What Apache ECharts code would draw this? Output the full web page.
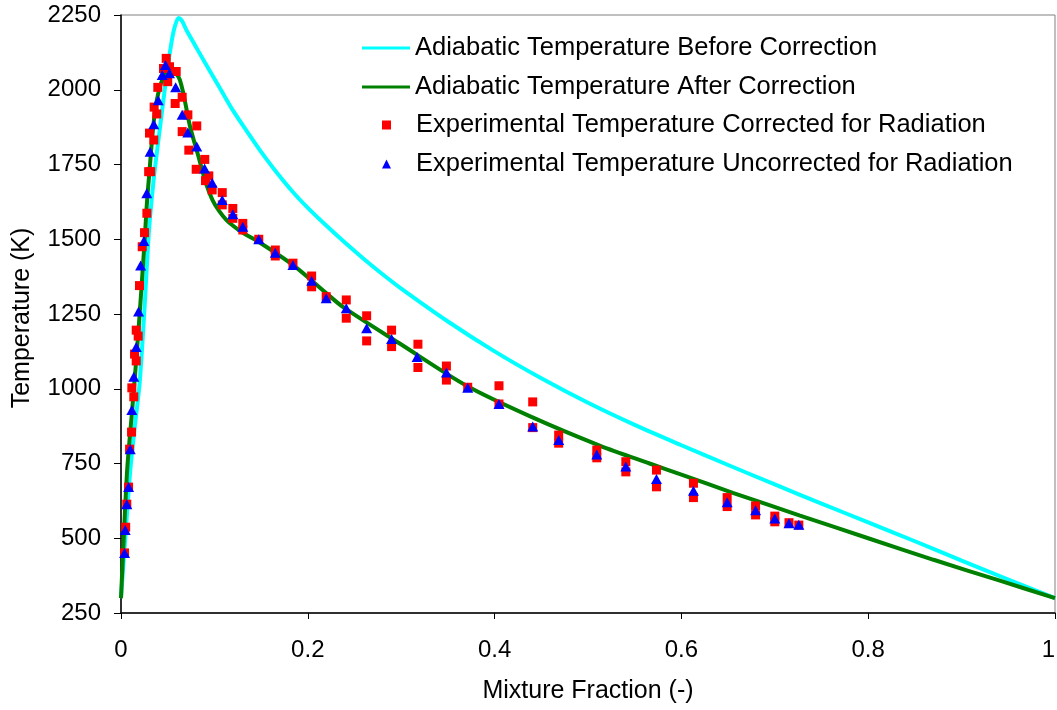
<!DOCTYPE html>
<html>
<head>
<meta charset="utf-8">
<script src="https://cdn.jsdelivr.net/npm/echarts@6/dist/echarts.min.js"></script>
<style>html,body{margin:0;padding:0;background:#fff}#c{width:1057px;height:710px}</style>
</head>
<body>
<div id="c"></div>
<script>
// Adiabatic temperature before correction (cyan)
const beforeX = [0, 0.005, 0.01, 0.015, 0.02, 0.025, 0.03, 0.035, 0.04, 0.045, 0.05, 0.055, 0.058, 0.0616, 0.065, 0.07, 0.08, 0.09, 0.1, 0.11, 0.12, 0.135, 0.15, 0.165, 0.184, 0.2, 0.22, 0.24, 0.26, 0.28, 0.3, 0.35, 0.4, 0.45, 0.5, 0.55, 0.6, 0.65, 0.7, 0.75, 0.8, 0.85, 0.9, 0.95, 1.0];
const beforeT = [300, 520, 730, 880, 1020, 1260, 1530, 1700, 1830, 1955, 2075, 2175, 2215, 2240, 2232, 2200, 2145, 2090, 2037, 1983, 1930, 1860, 1792, 1730, 1658, 1605, 1545, 1488, 1434, 1383, 1335, 1225, 1125, 1035, 953, 879, 811, 745, 680, 616, 553, 490, 425, 362, 300];
// Adiabatic temperature after correction (green)
const afterX = [0, 0.0032, 0.0068, 0.012, 0.0185, 0.025, 0.0275, 0.030, 0.0366, 0.045, 0.054, 0.063, 0.074, 0.083, 0.091, 0.098, 0.105, 0.113, 0.12, 0.13, 0.148, 0.184, 0.22, 0.2375, 0.298, 0.37, 0.44, 0.5125, 0.566, 0.6, 0.655, 0.727, 0.8, 0.87, 0.941, 1.0];
const afterT = [300, 518, 738, 930, 1186, 1480, 1610, 1709, 1932, 2040, 2065, 2033, 1876, 1776, 1687, 1631, 1595, 1564, 1545, 1522, 1490, 1414, 1319, 1274, 1152, 1010, 905, 810, 750, 713, 652, 576, 500, 428, 358, 300];
// Experimental temperature corrected for radiation (red squares)
const corrX = [0.0038, 0.0050, 0.0062, 0.0081, 0.0092, 0.0113, 0.0116, 0.0137, 0.0145, 0.0163, 0.0163, 0.0184, 0.0198, 0.0227, 0.0252, 0.0277, 0.0296, 0.0318, 0.0305, 0.0351, 0.0383, 0.0355, 0.0394, 0.0455, 0.0484, 0.0519, 0.0591, 0.0500, 0.0655, 0.0580, 0.0716, 0.0811, 0.0655, 0.0726, 0.0897, 0.0805, 0.0940, 0.0905, 0.1084, 0.0976, 0.1084, 0.1197, 0.1197, 0.1304, 0.1304, 0.1475, 0.1652, 0.1652, 0.1841, 0.2041, 0.2041, 0.2197, 0.2412, 0.2412, 0.2630, 0.2630, 0.2897, 0.2897, 0.3179, 0.3179, 0.3484, 0.3484, 0.3712, 0.4047, 0.4047, 0.4408, 0.4408, 0.4686, 0.4686, 0.5094, 0.5094, 0.5405, 0.5405, 0.5733, 0.5733, 0.6129, 0.6129, 0.6490, 0.6490, 0.6794, 0.6794, 0.7000, 0.7000, 0.7152, 0.7257];
const corrT = [451, 537, 614, 671, 798, 855, 1003, 973, 1116, 1093, 1196, 1176, 1345, 1475, 1522, 1587, 1726, 1726, 1855, 1832, 1919, 1942, 2008, 2071, 2105, 2077, 2061, 2027, 1975, 1954, 1916, 1879, 1860, 1798, 1767, 1734, 1712, 1696, 1656, 1665, 1615, 1603, 1570, 1553, 1531, 1500, 1464, 1444, 1420, 1377, 1341, 1308, 1297, 1236, 1244, 1160, 1196, 1141, 1149, 1071, 1076, 1029, 1005, 1010, 949, 956, 870, 845, 818, 795, 769, 756, 722, 728, 672, 684, 636, 636, 606, 608, 578, 574, 555, 552, 544];
// Experimental temperature uncorrected for radiation (blue triangles)
const uncorrX = [0.0038, 0.0045, 0.0062, 0.0081, 0.0099, 0.0116, 0.0137, 0.0163, 0.0188, 0.0210, 0.0245, 0.0276, 0.0312, 0.0351, 0.0398, 0.0441, 0.0476, 0.0519, 0.0585, 0.0655, 0.0715, 0.0811, 0.0895, 0.0976, 0.1084, 0.1197, 0.1304, 0.1475, 0.1652, 0.1841, 0.2041, 0.2197, 0.2412, 0.2630, 0.2897, 0.3170, 0.3484, 0.3712, 0.4047, 0.4408, 0.4686, 0.5094, 0.5405, 0.5733, 0.6129, 0.6490, 0.6794, 0.7000, 0.7152, 0.7257];
const uncorrT = [451, 528, 614, 671, 798, 929, 1040, 1140, 1258, 1412, 1494, 1654, 1793, 1885, 1965, 2049, 2083, 2055, 2008, 1916, 1857, 1810, 1737, 1689, 1631, 1584, 1542, 1500, 1455, 1414, 1361, 1303, 1269, 1202, 1166, 1106, 1054, 1003, 949, 874, 829, 780, 740, 698, 659, 620, 594, 566, 550, 545];

const names = ['Adiabatic Temperature Before Correction', 'Adiabatic Temperature After Correction', 'Experimental Temperature Corrected for Radiation', 'Experimental Temperature Uncorrected for Radiation'];
const xTicks = ['0', '0.2', '0.4', '0.6', '0.8', '1'];

const zip = (xs, ys) => xs.map((x, i) => [x, ys[i]]);
const FONT = 'Liberation Sans';
const chart = echarts.init(document.getElementById('c'), null, {renderer: 'canvas'});
chart.setOption({
  animation: false,
  backgroundColor: '#fff',
  textStyle: {fontFamily: FONT},
  grid: {left: 121, right: 2, top: 15, bottom: 97, show: true, borderColor: '#808080', borderWidth: 1, containLabel: false, outerBoundsMode: 'none'},
  xAxis: {
    type: 'value', min: 0, max: 1, interval: 0.2,
    name: 'Mixture Fraction (-)', nameLocation: 'middle', nameGap: 66,
    nameTextStyle: {fontSize: 25, color: '#000', fontFamily: FONT},
    axisLine: {show: true, lineStyle: {color: '#000', width: 1.5}},
    axisTick: {show: true, inside: false, length: 6, lineStyle: {color: '#000'}},
    axisLabel: {fontSize: 24, color: '#000', margin: 25, fontFamily: FONT, alignMaxLabel: 'right', formatter: (v) => xTicks[Math.round(v / 0.2)]},
    splitLine: {show: false}
  },
  yAxis: {
    type: 'value', min: 250, max: 2250, interval: 250,
    name: 'Temperature (K)', nameLocation: 'middle', nameGap: 86, nameRotate: 90,
    nameTextStyle: {fontSize: 25, color: '#000', fontFamily: FONT, padding: [0, 8, 0, 0]},
    axisLine: {show: true, lineStyle: {color: '#000', width: 1.5}},
    axisTick: {show: true, inside: false, length: 7, lineStyle: {color: '#000'}},
    axisLabel: {fontSize: 24, color: '#000', margin: 20, fontFamily: FONT, formatter: (v) => String(v)},
    splitLine: {show: false}
  },
  legend: [
    {
      data: [{name: names[0], icon: 'rect'}, {name: names[1], icon: 'rect'}],
      orient: 'vertical', left: 362, top: 35, padding: 0,
      itemWidth: 48, itemHeight: 3, itemGap: 13,
      textStyle: {fontSize: 25.5, color: '#000', fontFamily: FONT, lineHeight: 25}
    },
    {
      data: [{name: names[2], icon: 'rect'}, {name: names[3], icon: 'triangle'}],
      orient: 'vertical', left: 382, top: 112, padding: 0,
      itemWidth: 9, itemHeight: 9, itemGap: 13,
      textStyle: {fontSize: 25.5, color: '#000', fontFamily: FONT, lineHeight: 25, padding: [0, 0, 0, 20]}
    }
  ],
  series: [
    {name: names[0], type: 'line', data: zip(beforeX, beforeT), symbol: 'none', smooth: 0.3, lineStyle: {color: '#00FFFF', width: 4}, itemStyle: {color: '#00FFFF'}, z: 2},
    {name: names[1], type: 'line', data: zip(afterX, afterT), symbol: 'none', smooth: 0.3, lineStyle: {color: '#008000', width: 4}, itemStyle: {color: '#008000'}, z: 3},
    {name: names[2], type: 'scatter', data: zip(corrX, corrT), symbol: 'rect', symbolSize: 9, itemStyle: {color: '#FF0000', opacity: 1}, z: 4},
    {name: names[3], type: 'scatter', data: zip(uncorrX, uncorrT), symbol: 'triangle', symbolSize: [11, 10], itemStyle: {color: '#0000FF', opacity: 1}, z: 5}
  ]
});
</script>
</body>
</html>
